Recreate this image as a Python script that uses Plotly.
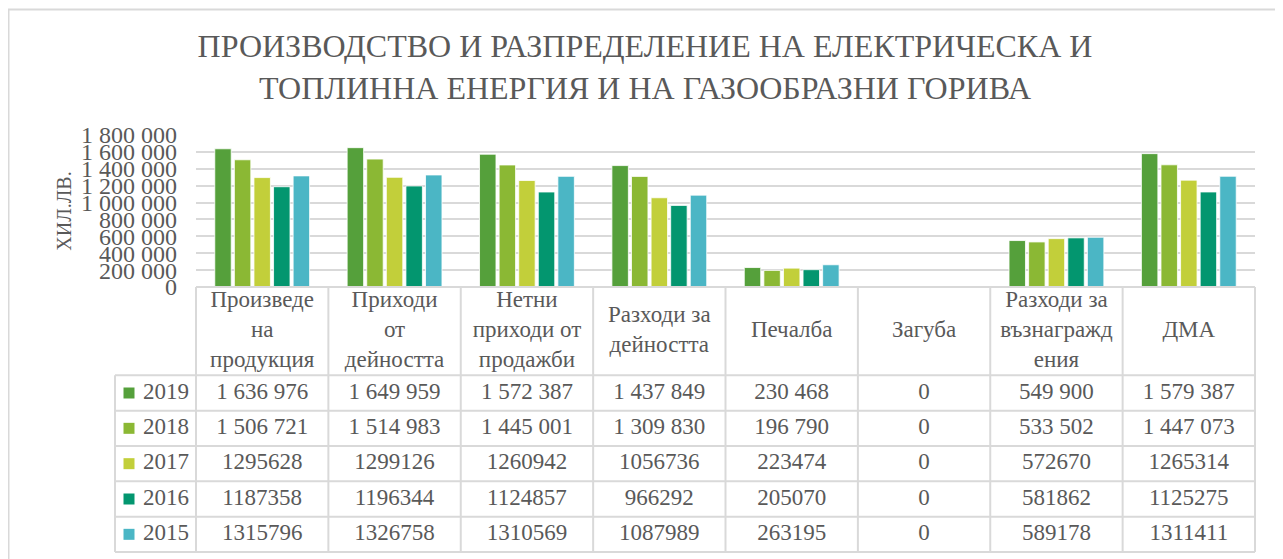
import plotly.graph_objects as go

categories = ["Произведе<br>на<br>продукция", "Приходи<br>от<br>дейността", "Нетни<br>приходи от<br>продажби",
              "Разходи за<br>дейността", "Печалба", "Загуба", "Разходи за<br>възнагражд<br>ения", "ДМА"]
cat_keys = ["Произведена продукция", "Приходи от дейността", "Нетни приходи от продажби",
            "Разходи за дейността", "Печалба", "Загуба", "Разходи за възнаграждения", "ДМА"]
years = ["2019", "2018", "2017", "2016", "2015"]
v2019 = [1636976, 1649959, 1572387, 1437849, 230468, 0, 549900, 1579387]
v2018 = [1506721, 1514983, 1445001, 1309830, 196790, 0, 533502, 1447073]
v2017 = [1295628, 1299126, 1260942, 1056736, 223474, 0, 572670, 1265314]
v2016 = [1187358, 1196344, 1124857, 966292, 205070, 0, 581862, 1125275]
v2015 = [1315796, 1326758, 1310569, 1087989, 263195, 0, 589178, 1311411]
t2019 = ["1 636 976", "1 649 959", "1 572 387", "1 437 849", "230 468", "0", "549 900", "1 579 387"]
t2018 = ["1 506 721", "1 514 983", "1 445 001", "1 309 830", "196 790", "0", "533 502", "1 447 073"]
t2017 = ["1295628", "1299126", "1260942", "1056736", "223474", "0", "572670", "1265314"]
t2016 = ["1187358", "1196344", "1124857", "966292", "205070", "0", "581862", "1125275"]
t2015 = ["1315796", "1326758", "1310569", "1087989", "263195", "0", "589178", "1311411"]
yticks = [0, 200000, 400000, 600000, 800000, 1000000, 1200000, 1400000, 1600000, 1800000]
yticklabels = ["0", "200 000", "400 000", "600 000", "800 000", "1 000 000", "1 200 000", "1 400 000", "1 600 000", "1 800 000"]

series = [v2019, v2018, v2017, v2016, v2015]
texts = [t2019, t2018, t2017, t2016, t2015]
colors = ["#55A03B", "#8BB834", "#C2CF3A", "#03966F", "#4BB6C5"]

FONT = "Liberation Serif"
TXT = "#595959"
GRID = "#D9D9D9"

# page has an 8px body margin; figure pixel = window pixel - 8
W, H = 1275, 551
PAD = 3
tab_left, plot_left, plot_right = 107, 188, 1247
plot_top, tab_top, tab_bottom = 127, 279, 544
ml, mr, mt, mb = tab_left - PAD, W - (plot_right + PAD), plot_top, H - (tab_bottom + PAD)
pw, ph = W - ml - mr, H - mt - mb

ncat = len(categories)
cw = (plot_right - plot_left) / ncat          # px per category
header_units = 2.5
rh = (tab_bottom - tab_top) / (header_units + len(years))  # px per table unit


def ux(p):
    return -0.5 + (p - plot_left) / cw


def vy(p):
    return (p - tab_top) / rh


fig = go.Figure()
for yr, vals, col in zip(years, series, colors):
    fig.add_trace(go.Bar(x=cat_keys, y=vals, name=yr, marker_color=col,
                         marker_line_color="white", marker_line_width=0.8,
                         showlegend=False, xaxis="x", yaxis="y", hoverinfo="x+y+name"))

# ---- data table (drawn on its own x2/y2 axes) ----
cols = list(range(ncat))
fig.add_trace(go.Scatter(x=cols, y=[header_units / 2] * ncat, text=categories, mode="text",
                         textposition="middle center", showlegend=False, hoverinfo="skip",
                         textfont=dict(family=FONT, size=23, color=TXT), xaxis="x2", yaxis="y2"))
for k, (yr, tx, col) in enumerate(zip(years, texts, colors)):
    row_y = header_units + 0.5 + k
    fig.add_trace(go.Scatter(x=cols, y=[row_y] * ncat, text=tx, mode="text",
                             textposition="middle center", showlegend=False, hoverinfo="skip",
                             textfont=dict(family=FONT, size=23, color=TXT), xaxis="x2", yaxis="y2"))
    fig.add_trace(go.Scatter(x=[ux(tab_left + 14)], y=[row_y], mode="markers",
                             marker=dict(symbol="square", size=11, color=col),
                             showlegend=False, hoverinfo="skip", xaxis="x2", yaxis="y2"))
    fig.add_trace(go.Scatter(x=[ux(plot_left - 7)], y=[row_y], text=[yr], mode="text",
                             textposition="middle left", showlegend=False, hoverinfo="skip",
                             textfont=dict(family=FONT, size=23, color=TXT), xaxis="x2", yaxis="y2"))

x_left = ux(tab_left)
nrows_total = header_units + len(years)
shapes = []
line = dict(color=GRID, width=2)
# horizontal lines
shapes.append(dict(type="line", xref="x2", yref="y2", x0=-0.5, x1=ncat - 0.5, y0=0, y1=0, line=line))
for k in range(len(years) + 1):
    yy = header_units + k
    shapes.append(dict(type="line", xref="x2", yref="y2", x0=x_left, x1=ncat - 0.5, y0=yy, y1=yy, line=line))
# vertical lines
for i in range(ncat + 1):
    xx = i - 0.5
    shapes.append(dict(type="line", xref="x2", yref="y2", x0=xx, x1=xx, y0=0, y1=nrows_total, line=line))
shapes.append(dict(type="line", xref="x2", yref="y2", x0=x_left, x1=x_left, y0=header_units, y1=nrows_total, line=line))
# outer chart border
shapes.append(dict(type="rect", xref="paper", yref="paper",
                   x0=(0.5 - ml) / pw, x1=(W + 20 - ml) / pw,
                   y0=-0.1, y1=(H - mb - 1.5) / ph,
                   line=dict(color=GRID, width=2), fillcolor="rgba(0,0,0,0)", layer="below"))

fig.update_layout(
    width=W, height=H,
    margin=dict(l=ml, r=mr, t=mt, b=mb, autoexpand=False),
    paper_bgcolor="white", plot_bgcolor="rgba(0,0,0,0)",
    barmode="group", bargap=0.26, bargroupgap=0.16,
    title=dict(text="ПРОИЗВОДСТВО И РАЗПРЕДЕЛЕНИЕ НА ЕЛЕКТРИЧЕСКА И<br>ТОПЛИННА ЕНЕРГИЯ И НА ГАЗООБРАЗНИ ГОРИВА",
               x=637 / W, xanchor="center", xref="container", y=1 - 49 / H, yanchor="middle", yref="container",
               font=dict(family=FONT, size=32, color=TXT)),
    xaxis=dict(domain=[(plot_left - ml) / pw, (plot_right - ml) / pw], showticklabels=False, ticks="",
               showline=False, showgrid=False, zeroline=False, anchor="y", automargin=False),
    yaxis=dict(domain=[(H - mb - tab_top) / ph, 1], range=[0, 1800000], tickvals=yticks, ticktext=yticklabels,
               showgrid=True, gridcolor=GRID, gridwidth=1.5, zeroline=False, ticks="", automargin=False,
               tickfont=dict(family=FONT, size=24, color=TXT), ticklabelstandoff=18,
               title=dict(text="ХИЛ.ЛВ.", font=dict(family=FONT, size=20, color=TXT), standoff=4)),
    xaxis2=dict(domain=[0, 1], range=[ux(ml), ux(W - mr)], visible=False, anchor="y2"),
    yaxis2=dict(domain=[0, (H - mb - (tab_top - PAD)) / ph], range=[vy(H - mb), vy(tab_top - PAD)],
                visible=False, anchor="x2"),
    shapes=shapes,
)

fig.write_html("out.html")
